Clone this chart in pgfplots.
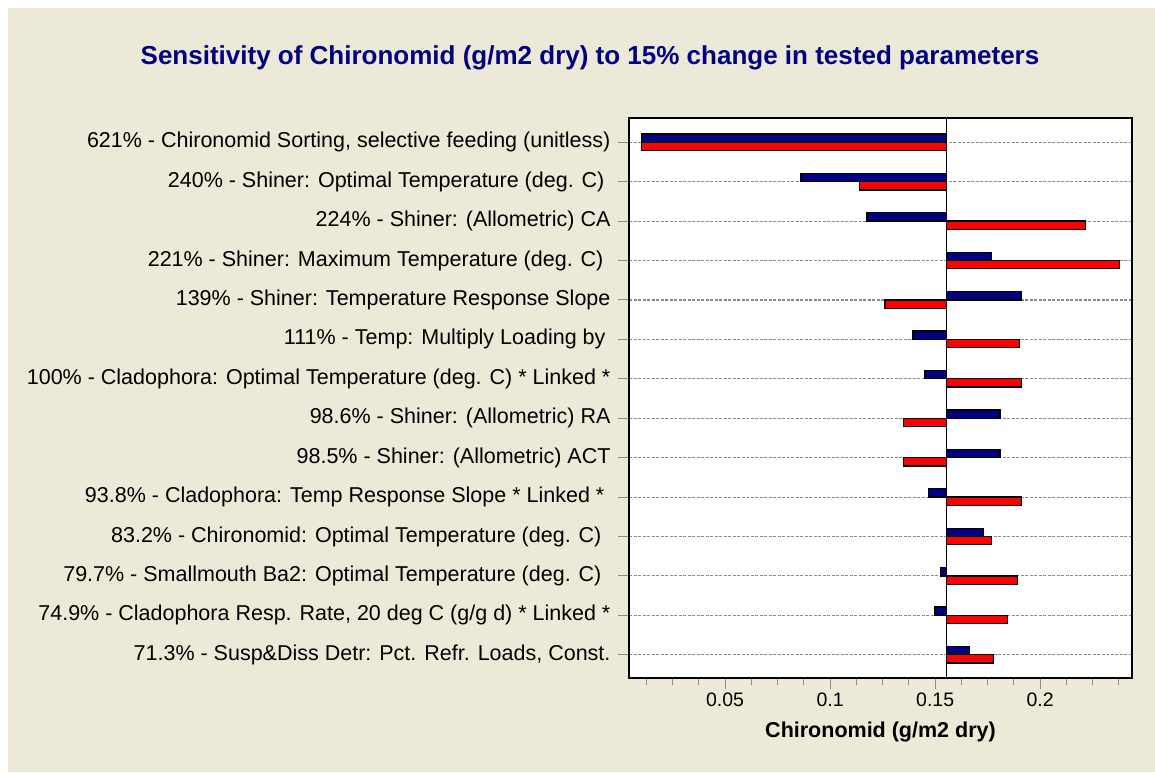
\documentclass[border=0pt]{standalone}
\usepackage{fontspec}
\setmainfont{Liberation Sans}
\usepackage{pgfplots}
\pgfplotsset{compat=1.18}
\usepackage{pgfplotstable}
\definecolor{bgbeige}{HTML}{ECE9D8}
\definecolor{navyb}{HTML}{000080}
\definecolor{gridg}{HTML}{8C8C8C}

\pgfplotstableread{
y  blue    red
13 0.0103  0.0103
12 0.0862  0.1140
11 0.1176  0.2214
10 0.1768  0.2376
9  0.1911  0.1262
8  0.1395  0.1902
7  0.1452  0.1911
6  0.1808  0.1348
5  0.1808  0.1348
4  0.1470  0.1911
3  0.1730  0.1768
2  0.1525  0.1892
1  0.1499  0.1843
0  0.1663  0.1778
}\sens

\begin{document}
\begin{tikzpicture}
\fill[white] (0pt,0pt) rectangle (1155pt,772pt);
\fill[bgbeige] (8pt,0pt) rectangle (1155pt,764pt);
\node[font=\fontsize{26}{30}\selectfont\bfseries, text=navyb] at (590pt,714pt)
  {Sensitivity of Chironomid (g/m2 dry) to 15\% change in tested parameters};
\begin{axis}[
  at={(629pt,94pt)}, anchor=south west,
  width=503pt, height=560pt, scale only axis,
  xmin=-0.1511, xmax=0.0883, ymin=-0.59, ymax=13.616,
  axis background/.style={fill=white},
  axis line style={black, line width=1.6pt},
  x filter/.expression={x-0.1554},
  xtick={-0.1054,-0.0554,-0.0054,0.0446},
  xticklabels={0.05,0.1,0.15,0.2},
  minor xtick={-0.1429,-0.1304,-0.1179,-0.0929,-0.0804,-0.0679,-0.0429,-0.0304,-0.0179,0.0071,0.0196,0.0321,0.0571,0.0696,0.0821},
  ytick={0,...,13},
  yticklabels={
    {71.3\% - Susp\&Diss Detr: Pct. Refr. Loads, Const.},
    {74.9\% - Cladophora Resp. Rate, 20 deg C (g/g d) * Linked *},
    {79.7\% - Smallmouth Ba2: Optimal Temperature (deg. C)\hspace*{9pt}},
    {83.2\% - Chironomid: Optimal Temperature (deg. C)\hspace*{9pt}},
    {93.8\% - Cladophora: Temp Response Slope * Linked *\hspace*{6pt}},
    {98.5\% - Shiner: (Allometric) ACT},
    {98.6\% - Shiner: (Allometric) RA},
    {100\% - Cladophora: Optimal Temperature (deg. C) * Linked *},
    {111\% - Temp: Multiply Loading by\hspace*{5pt}},
    {139\% - Shiner: Temperature Response Slope},
    {221\% - Shiner: Maximum Temperature (deg. C)\hspace*{7pt}},
    {224\% - Shiner: (Allometric) CA},
    {240\% - Shiner: Optimal Temperature (deg. C)\hspace*{6pt}},
    {621\% - Chironomid Sorting, selective feeding (unitless)}
  },
  tick align=outside,
  xtick pos=bottom, ytick pos=left,
  major tick length=11pt, minor tick length=7pt,
  every tick/.style={gridg, line width=1pt},
  ymajorgrids,
  major grid style={gridg, dash pattern=on 3pt off 1.5pt, line width=1.1pt},
  /pgf/number format/assume math mode=true,
  yticklabel style={font=\fontsize{21.5}{24}\selectfont, xshift=-4pt},
  xticklabel style={font=\fontsize{19.5}{22}\selectfont},
  xlabel={Chironomid (g/m2 dry)},
  xlabel style={font=\fontsize{21.5}{24}\selectfont\bfseries, at={(axis description cs:0.5,0)}, anchor=center, yshift=-54pt},
  clip=true,
]
\addplot[xbar, bar width=0.21, bar shift=0.105, fill=navyb, draw=black, line width=1.3pt] table[x=blue, y=y] {\sens};
\addplot[xbar, bar width=0.21, bar shift=-0.105, fill=red, draw=black, line width=1.3pt] table[x=red, y=y] {\sens};
\addplot[black, line width=1.5pt, mark=none] coordinates {(0.1554,-0.59) (0.1554,13.616)};
\end{axis}
\end{tikzpicture}
\end{document}
